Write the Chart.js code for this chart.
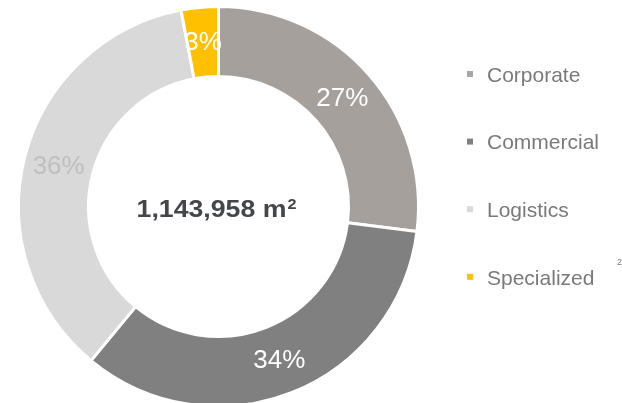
<!DOCTYPE html>
<html>
<head>
<meta charset="utf-8">
<script src="https://cdn.jsdelivr.net/npm/chart.js@4"></script>
<style>
  html, body { margin: 0; padding: 0; background: #fff; overflow: hidden; }
  #wrap { position: relative; width: 622px; height: 412px; }
</style>
</head>
<body>
<div id="wrap"><canvas id="donut"></canvas></div>
<script>
// data
const categories = ["Corporate", "Commercial", "Logistics", "Specialized"];
const shares = [27, 34, 36, 3];
const sliceColors = ["#A5A09C", "#808080", "#D9D9D9", "#FFC000"];
const labelColors = ["#FFFFFF", "#FFFFFF", "#BFBFBF", "#FFFFFF"];
const legendColors = ["#A6A6A6", "#808080", "#D9D9D9", "#FFC000"];
const totalText = "1,143,958 m";
const totalSup = "2";

const FONT = '"Liberation Sans", Arial, sans-serif';

// --- percentage labels on each arc ---
const sliceLabels = {
  id: "sliceLabels",
  afterDatasetsDraw(chart) {
    const ctx = chart.ctx;
    const meta = chart.getDatasetMeta(0);
    ctx.save();
    ctx.font = "26px " + FONT;
    ctx.textAlign = "center";
    ctx.textBaseline = "middle";
    meta.data.forEach((arc, i) => {
      const p = arc.getCenterPoint();
      ctx.fillStyle = labelColors[i];
      ctx.fillText(shares[i] + "%", p.x, p.y + 1);
    });
    ctx.restore();
  },
};

// --- total in the hole ---
const centerText = {
  id: "centerText",
  afterDraw(chart) {
    const ctx = chart.ctx;
    const arc = chart.getDatasetMeta(0).data[0];
    const sx = 1.16;
    ctx.save();
    ctx.fillStyle = "#44464A";
    ctx.textBaseline = "alphabetic";
    ctx.font = "bold 23px " + FONT;
    const w1 = ctx.measureText(totalText).width * sx;
    ctx.font = "bold 14px " + FONT;
    const w2 = ctx.measureText(totalSup).width * sx;
    const x0 = arc.x - 2 - (w1 + w2 + 1) / 2;
    const y0 = arc.y + 10.5;
    ctx.save();
    ctx.translate(x0, y0);
    ctx.scale(sx, 1);
    ctx.font = "bold 23px " + FONT;
    ctx.fillText(totalText, 0, 0);
    ctx.restore();
    ctx.save();
    ctx.translate(x0 + w1 + 1, y0 - 8);
    ctx.scale(sx, 1);
    ctx.font = "bold 14px " + FONT;
    ctx.fillText(totalSup, 0, 0);
    ctx.restore();
    ctx.restore();
  },
};

// --- legend on the right ---
const sideLegend = {
  id: "sideLegend",
  afterDraw(chart) {
    const ctx = chart.ctx;
    ctx.save();
    ctx.font = "21px " + FONT;
    ctx.textAlign = "left";
    ctx.textBaseline = "middle";
    categories.forEach((name, i) => {
      const y = 75 + i * 67.6;
      ctx.fillStyle = legendColors[i];
      ctx.fillRect(467, y - 4, 6, 6);
      ctx.fillStyle = "#7A7A7A";
      ctx.fillText(name, 487, y + 1);
    });
    // stray footnote mark at the right edge
    ctx.font = "9px " + FONT;
    ctx.fillStyle = "#7A7A7A";
    ctx.fillText("2", 617, 263);
    ctx.restore();
  },
};

new Chart(document.getElementById("donut"), {
  type: "doughnut",
  data: {
    labels: categories,
    datasets: [{
      data: shares,
      backgroundColor: sliceColors,
      borderColor: "#FFFFFF",
      borderWidth: 3,
      hoverOffset: 0,
    }],
  },
  options: {
    responsive: true,
    maintainAspectRatio: false,
    animation: false,
    cutout: "65%",
    layout: { padding: { left: 17, top: 5, right: 202, bottom: 4 } },
    plugins: {
      legend: { display: false },
      tooltip: { enabled: false },
    },
  },
  plugins: [sliceLabels, centerText, sideLegend],
});
</script>
</body>
</html>
